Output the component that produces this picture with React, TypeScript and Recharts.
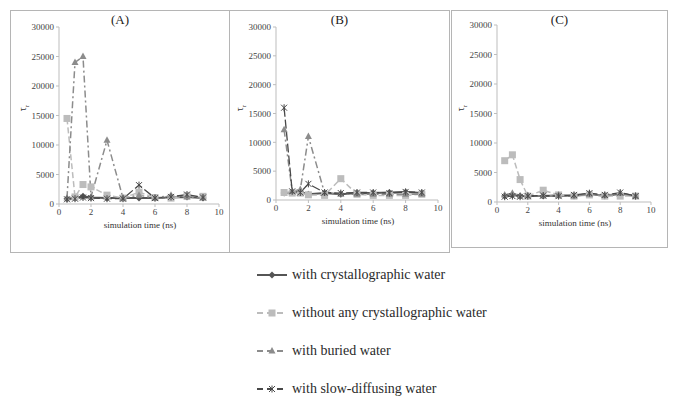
import { LineChart, Line, XAxis, YAxis } from 'recharts'

const TIME = [0.5, 1, 1.5, 2, 3, 4, 5, 6, 7, 8, 9]
const Y_TICKS = [0, 5000, 10000, 15000, 20000, 25000, 30000]
const X_TICKS = [0, 2, 4, 6, 8, 10]

const crystA = [900, 1000, 1300, 1100, 1000, 1000, 1000, 1000, 1100, 1200, 1000]
const withoutA = [14500, 1200, 3300, 2900, 1500, 1000, 2000, 1100, 1000, 1400, 1300]
const buriedA = [1000, 24000, 25000, 1200, 10800, 1000, 1500, 1000, 1500, 1200, 1000]
const slowA = [800, 900, 1100, 1000, 900, 900, 3200, 1000, 1200, 1600, 1100]

const crystB = [1200, 1300, 1400, 1000, 1200, 1000, 1200, 1200, 1300, 1400, 1200]
const withoutB = [1300, 1200, 1200, 900, 800, 3700, 1000, 800, 800, 800, 1000]
const buriedB = [12200, 1500, 1800, 11000, 1200, 1000, 1000, 1000, 1000, 1000, 1000]
const slowB = [16000, 1500, 1300, 2800, 1300, 1200, 1300, 1300, 1200, 1400, 1300]

const crystC = [1000, 1200, 1000, 1000, 1000, 1100, 1000, 1400, 1000, 1400, 1000]
const withoutC = [7000, 8000, 3800, 1000, 2000, 1200, 1000, 1200, 1000, 1000, 1000]
const buriedC = [1200, 1500, 1000, 1100, 1000, 1200, 1000, 1300, 1100, 1500, 1000]
const slowC = [900, 1000, 900, 1000, 1100, 1000, 1200, 1500, 1200, 1600, 1000]

const SERIES = [
  { key: 'cryst', name: 'with crystallographic water', color: '#555555', dash: undefined, width: 2, shape: 'diamond' },
  { key: 'without', name: 'without any crystallographic water', color: '#bcbcbc', dash: '6 3', width: 1.5, shape: 'square' },
  { key: 'buried', name: 'with buried water', color: '#8c8c8c', dash: '7 3 2 3', width: 1.5, shape: 'triangle' },
  { key: 'slow', name: 'with slow-diffusing water', color: '#484848', dash: '9 3', width: 1.3, shape: 'star' },
]

const FONT = '"Liberation Serif", "Times New Roman", serif'

function buildRows(cryst: number[], without: number[], buried: number[], slow: number[]) {
  return TIME.map((t, i) => ({ t, cryst: cryst[i], without: without[i], buried: buried[i], slow: slow[i] }))
}

function Marker({ cx, cy, shape, color }: { cx: number; cy: number; shape: string; color: string }) {
  if (cx == null || cy == null) return null
  if (shape === 'diamond') {
    return <polygon points={`${cx},${cy - 3.5} ${cx + 3.5},${cy} ${cx},${cy + 3.5} ${cx - 3.5},${cy}`} fill={color} />
  }
  if (shape === 'square') {
    return <rect x={cx - 3.5} y={cy - 3.5} width={7} height={7} fill={color} />
  }
  if (shape === 'triangle') {
    return <polygon points={`${cx},${cy - 4} ${cx + 3.5},${cy + 2.5} ${cx - 3.5},${cy + 2.5}`} fill={color} />
  }
  return (
    <g stroke={color} strokeWidth={1}>
      <line x1={cx - 3} y1={cy - 3} x2={cx + 3} y2={cy + 3} />
      <line x1={cx - 3} y1={cy + 3} x2={cx + 3} y2={cy - 3} />
      <line x1={cx} y1={cy - 3.5} x2={cx} y2={cy + 3.5} />
    </g>
  )
}

interface PanelProps {
  title: string
  left: number
  width: number
  height: number
  margin: { top: number; right: number; bottom: number; left: number }
  data: ReturnType<typeof buildRows>
}

function Panel({ title, left, width, height, margin, data }: PanelProps) {
  const plotLeft = margin.left + 40
  const plotWidth = width - plotLeft - margin.right
  const plotBottom = height - margin.bottom - 20
  return (
    <div
      style={{
        position: 'absolute', left, top: 10, width, height,
        border: '1px solid #b5b5b5', boxSizing: 'border-box', fontFamily: FONT,
      }}
    >
      <LineChart width={width - 2} height={height - 2} data={data} margin={margin}>
        <XAxis
          dataKey="t"
          type="number"
          domain={[0, 10]}
          ticks={X_TICKS}
          height={20}
          tick={{ fontSize: 9, fill: '#444', fontFamily: FONT }}
          axisLine={{ stroke: '#bdbdbd' }}
          tickLine={{ stroke: '#bdbdbd' }}
          tickSize={3}
        />
        <YAxis
          domain={[0, 30000]}
          ticks={Y_TICKS}
          width={40}
          tick={{ fontSize: 9, fill: '#444', fontFamily: FONT }}
          axisLine={{ stroke: '#bdbdbd' }}
          tickLine={{ stroke: '#bdbdbd' }}
          tickSize={3}
        />
        {SERIES.map((s) => (
          <Line
            key={s.key}
            dataKey={s.key}
            name={s.name}
            stroke={s.color}
            strokeWidth={s.width}
            strokeDasharray={s.dash}
            isAnimationActive={false}
            dot={(p: any) => <Marker key={`${s.key}-${p.index}`} cx={p.cx} cy={p.cy} shape={s.shape} color={s.color} />}
          />
        ))}
      </LineChart>
      <div style={{ position: 'absolute', left: 0, width: '100%', top: 1, textAlign: 'center', fontSize: 13, color: '#222' }}>
        {title}
      </div>
      <div style={{ position: 'absolute', left: plotLeft, width: plotWidth, top: plotBottom + 14, textAlign: 'center', fontSize: 9, color: '#333' }}>
        simulation time (ns)
      </div>
      <div style={{ position: 'absolute', left: plotLeft - 38, top: 90, fontSize: 10, color: '#333', transform: 'rotate(-90deg)' }}>
        τ<sub style={{ fontSize: 7 }}>r</sub>
      </div>
    </div>
  )
}

function LegendIcon({ s }: { s: (typeof SERIES)[number] }) {
  return (
    <svg width={32} height={12} style={{ marginRight: 4 }}>
      <line x1={1} y1={6} x2={31} y2={6} stroke={s.color} strokeWidth={2} strokeDasharray={s.dash ? '6 4' : undefined} />
      <Marker cx={16} cy={6} shape={s.shape} color={s.color} />
    </svg>
  )
}

export default function App() {
  return (
    <div style={{ position: 'absolute', left: 0, top: 0, width: 679, height: 409, background: '#fff', fontFamily: FONT }}>
      <Panel title="(A)" left={10} width={220} height={243} margin={{ top: 16, right: 10, bottom: 28, left: 8 }} data={buildRows(crystA, withoutA, buriedA, slowA)} />
      <Panel title="(B)" left={229} width={221} height={243} margin={{ top: 16, right: 11, bottom: 32, left: 6 }} data={buildRows(crystB, withoutB, buriedB, slowB)} />
      <Panel title="(C)" left={451} width={217} height={238} margin={{ top: 14, right: 16, bottom: 25, left: 5 }} data={buildRows(crystC, withoutC, buriedC, slowC)} />
      <div style={{ position: 'absolute', left: 256, top: 256 }}>
        {SERIES.map((s) => (
          <div key={s.key} style={{ display: 'flex', alignItems: 'center', height: 38, fontSize: 14, color: '#2a2a2a' }}>
            <LegendIcon s={s} />
            <span>{s.name}</span>
          </div>
        ))}
      </div>
    </div>
  )
}
